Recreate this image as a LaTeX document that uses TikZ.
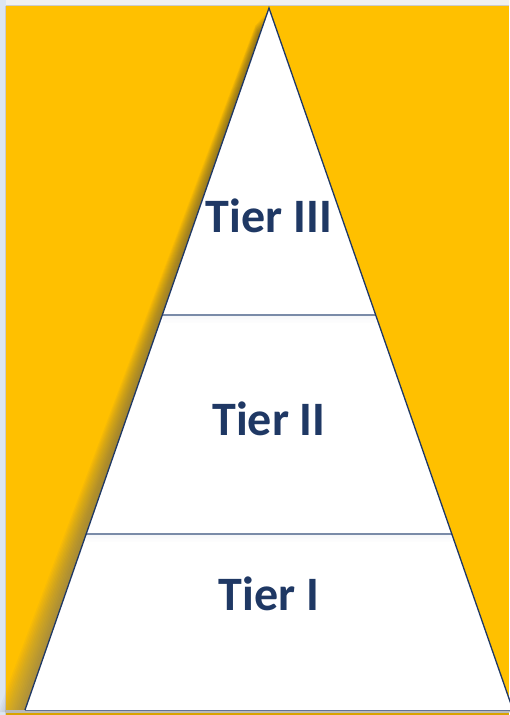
\documentclass[tikz,border=0pt]{standalone}
\usepackage{fontspec}
\setmainfont{Carlito}
\begin{document}
\begin{tikzpicture}[x=1pt,y=-1pt,
  tiertext/.style={font=\fontsize{48}{48}\selectfont\bfseries, text=navy},
  divider/.style={draw=divline, line width=1.3pt}]
\definecolor{gold}{HTML}{FFC000}
\definecolor{navy}{HTML}{1F3864}
\definecolor{divline}{HTML}{7A8BA8}
\definecolor{stripblue}{HTML}{DCE6F2}
\definecolor{topgray}{HTML}{F0F0F0}
\definecolor{shade}{HTML}{8A8A6A}
\useasboundingbox (0,0) rectangle (509,715);
% background
\fill[stripblue] (0,0) rectangle (6,715);
\fill[topgray] (6,0) rectangle (509,6);
\fill[gold] (6,6) rectangle (509,715);
\draw[gray!40, line width=0.8pt] (6,5.5) -- (509,5.5);
\draw[gray!40, line width=0.8pt] (5.5,6) -- (5.5,715);
% soft shadow
\foreach \d in {2,4,...,30}{
  \fill[shade, opacity=0.028] (269-\d*0.45,10+\d*0.5) -- (25-\d*0.9,712) -- (513,712) -- cycle;
}
% bottom strip
\fill[gray!55] (6,710) rectangle (509,713);
\fill[gold!85!black] (6,713) rectangle (509,715);
% triangle
\coordinate (apex) at (269,8);
\coordinate (bl) at (25,710);
\coordinate (br) at (513,710);
\fill[white] (apex) -- (bl) -- (br) -- cycle;
% divider shadows
\foreach \k/\o in {1/0.10,2/0.07,3/0.05,4/0.03,5/0.02}{
  \draw[stripblue!70!navy, opacity=\o, line width=1.5pt] (163,315+1.5*\k) -- (376,315+1.5*\k);
  \draw[stripblue!70!navy, opacity=\o, line width=1.5pt] (86,534+1.5*\k) -- (453,534+1.5*\k);
}
\coordinate (d1l) at (162.3,315);
\coordinate (d1r) at (375.7,315);
\coordinate (d2l) at (86,534);
\coordinate (d2r) at (452,534);
\draw[divider] (d1l) -- (d1r);
\draw[divider] (d2l) -- (d2r);
\draw[navy, line width=1.3pt, line join=miter] (bl) -- (apex) -- (br);
\draw[navy!70, line width=1pt] (bl) -- (br);
% labels
\node[tiertext] (t3) at (269,216) {Tier III};
\node[tiertext] (t2) at (269,419) {Tier II};
\node[tiertext] (t1) at (269,594) {Tier I};
\end{tikzpicture}
\end{document}
